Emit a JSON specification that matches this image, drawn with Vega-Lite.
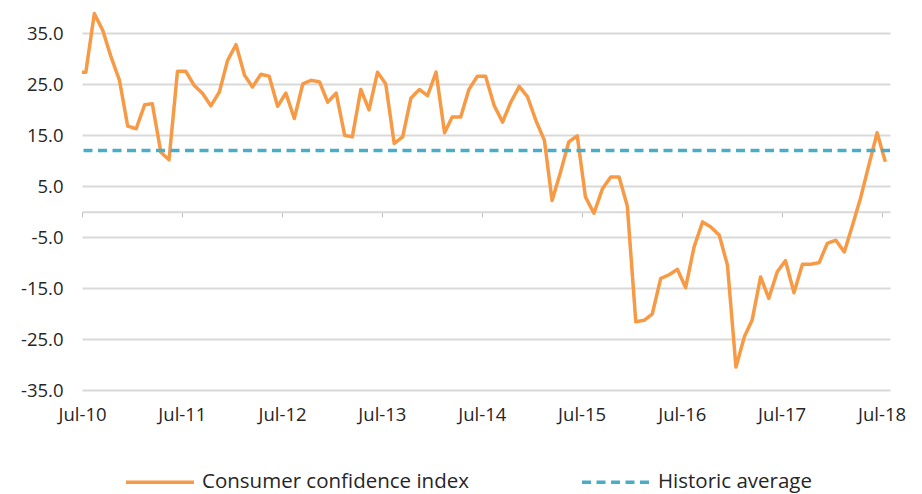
{
  "$schema": "https://vega.github.io/schema/vega-lite/v6.json",
  "width": 808,
  "height": 382,
  "autosize": {"type": "none"},
  "padding": {"left": 82, "top": 8, "right": 32, "bottom": 104},
  "config": {
    "view": {"stroke": null},
    "font": "Open Sans",
    "axis": {"labelFont": "Open Sans", "labelFontSize": 18.5, "labelColor": "#262626"},
    "legend": {"labelFont": "Open Sans", "labelFontSize": 20.5, "labelColor": "#262626", "labelLimit": 0}
  },
  "datasets": {
    "cci": [
      {"date": "2010-06-15", "value": 27.4},
      {"date": "2010-07-15", "value": 27.4},
      {"date": "2010-08-15", "value": 38.9},
      {"date": "2010-09-15", "value": 35.6},
      {"date": "2010-10-15", "value": 30.4},
      {"date": "2010-11-15", "value": 25.8},
      {"date": "2010-12-15", "value": 16.8},
      {"date": "2011-01-15", "value": 16.3},
      {"date": "2011-02-15", "value": 21.0},
      {"date": "2011-03-15", "value": 21.2},
      {"date": "2011-04-15", "value": 11.7},
      {"date": "2011-05-15", "value": 10.2},
      {"date": "2011-06-15", "value": 27.6},
      {"date": "2011-07-15", "value": 27.6},
      {"date": "2011-08-15", "value": 24.8},
      {"date": "2011-09-15", "value": 23.2},
      {"date": "2011-10-15", "value": 20.8},
      {"date": "2011-11-15", "value": 23.5},
      {"date": "2011-12-15", "value": 29.7},
      {"date": "2012-01-15", "value": 32.8},
      {"date": "2012-02-15", "value": 26.8},
      {"date": "2012-03-15", "value": 24.5},
      {"date": "2012-04-15", "value": 27.0},
      {"date": "2012-05-15", "value": 26.6},
      {"date": "2012-06-15", "value": 20.7},
      {"date": "2012-07-15", "value": 23.3},
      {"date": "2012-08-15", "value": 18.3},
      {"date": "2012-09-15", "value": 25.1},
      {"date": "2012-10-15", "value": 25.8},
      {"date": "2012-11-15", "value": 25.5},
      {"date": "2012-12-15", "value": 21.5},
      {"date": "2013-01-15", "value": 23.3},
      {"date": "2013-02-15", "value": 15.0},
      {"date": "2013-03-15", "value": 14.7},
      {"date": "2013-04-15", "value": 24.0},
      {"date": "2013-05-15", "value": 20.0},
      {"date": "2013-06-15", "value": 27.4},
      {"date": "2013-07-15", "value": 25.1},
      {"date": "2013-08-15", "value": 13.4},
      {"date": "2013-09-15", "value": 14.7},
      {"date": "2013-10-15", "value": 22.3},
      {"date": "2013-11-15", "value": 24.0},
      {"date": "2013-12-15", "value": 22.8},
      {"date": "2014-01-15", "value": 27.4},
      {"date": "2014-02-15", "value": 15.5},
      {"date": "2014-03-15", "value": 18.6},
      {"date": "2014-04-15", "value": 18.6},
      {"date": "2014-05-15", "value": 24.0},
      {"date": "2014-06-15", "value": 26.6},
      {"date": "2014-07-15", "value": 26.6},
      {"date": "2014-08-15", "value": 20.9},
      {"date": "2014-09-15", "value": 17.6},
      {"date": "2014-10-15", "value": 21.5},
      {"date": "2014-11-15", "value": 24.6},
      {"date": "2014-12-15", "value": 22.6},
      {"date": "2015-01-15", "value": 17.9},
      {"date": "2015-02-15", "value": 14.0},
      {"date": "2015-03-15", "value": 2.2},
      {"date": "2015-04-15", "value": 7.8},
      {"date": "2015-05-15", "value": 13.7},
      {"date": "2015-06-15", "value": 14.9},
      {"date": "2015-07-15", "value": 2.9},
      {"date": "2015-08-15", "value": -0.3},
      {"date": "2015-09-15", "value": 4.5},
      {"date": "2015-10-15", "value": 6.8},
      {"date": "2015-11-15", "value": 6.8},
      {"date": "2015-12-15", "value": 1.1},
      {"date": "2016-01-15", "value": -21.6},
      {"date": "2016-02-15", "value": -21.3},
      {"date": "2016-03-15", "value": -20.1},
      {"date": "2016-04-15", "value": -13.1},
      {"date": "2016-05-15", "value": -12.4},
      {"date": "2016-06-15", "value": -11.3},
      {"date": "2016-07-15", "value": -14.9},
      {"date": "2016-08-15", "value": -6.9},
      {"date": "2016-09-15", "value": -2.0},
      {"date": "2016-10-15", "value": -3.0},
      {"date": "2016-11-15", "value": -4.6},
      {"date": "2016-12-15", "value": -10.5},
      {"date": "2017-01-15", "value": -30.5},
      {"date": "2017-02-15", "value": -24.5},
      {"date": "2017-03-15", "value": -21.3},
      {"date": "2017-04-15", "value": -12.8},
      {"date": "2017-05-15", "value": -17.0},
      {"date": "2017-06-15", "value": -11.8},
      {"date": "2017-07-15", "value": -9.6},
      {"date": "2017-08-15", "value": -15.9},
      {"date": "2017-09-15", "value": -10.3},
      {"date": "2017-10-15", "value": -10.3},
      {"date": "2017-11-15", "value": -10.0},
      {"date": "2017-12-15", "value": -6.2},
      {"date": "2018-01-15", "value": -5.6},
      {"date": "2018-02-15", "value": -7.9},
      {"date": "2018-03-15", "value": -3.0},
      {"date": "2018-04-15", "value": 2.6},
      {"date": "2018-05-15", "value": 9.0},
      {"date": "2018-06-15", "value": 15.5},
      {"date": "2018-07-15", "value": 9.8}
    ],
    "avg": [
      {"series": "Historic average", "value": 12.0}
    ]
  },
  "layer": [
    {
      "data": {"name": "cci"},
      "transform": [{"calculate": "'Consumer confidence index'", "as": "series"}],
      "mark": {"type": "line", "strokeWidth": 3.5, "clip": true, "strokeJoin": "round"},
      "encoding": {
        "x": {
          "field": "date",
          "type": "temporal",
          "title": null,
          "scale": {"type": "utc", "domain": [{"year": 2010, "month": 7, "date": 1, "utc": true}, {"year": 2018, "month": 8, "date": 1, "utc": true}]},
          "axis": {
            "values": [
              {"year": 2010, "month": 7, "date": 1, "utc": true},
              {"year": 2011, "month": 7, "date": 1, "utc": true},
              {"year": 2012, "month": 7, "date": 1, "utc": true},
              {"year": 2013, "month": 7, "date": 1, "utc": true},
              {"year": 2014, "month": 7, "date": 1, "utc": true},
              {"year": 2015, "month": 7, "date": 1, "utc": true},
              {"year": 2016, "month": 7, "date": 1, "utc": true},
              {"year": 2017, "month": 7, "date": 1, "utc": true},
              {"year": 2018, "month": 7, "date": 1, "utc": true}
            ],
            "labelExpr": "utcFormat(datum.value, '%b-%y')",
            "grid": false,
            "offset": -178.3,
            "domainColor": "#D9D9D9",
            "domainWidth": 2,
            "tickColor": "#BFBFBF",
            "tickWidth": 1,
            "tickSize": 5,
            "labelPadding": 189,
            "labelFlush": false,
            "labelOverlap": false
          }
        },
        "y": {
          "field": "value",
          "type": "quantitative",
          "title": null,
          "scale": {"domain": [-35, 40], "nice": false, "zero": false},
          "axis": {
            "values": [-35, -25, -15, -5, 5, 15, 25, 35],
            "labelExpr": "replace(format(datum.value, '.1f'), '\u2212', '-')",
            "domain": false,
            "ticks": false,
            "gridColor": "#D9D9D9",
            "gridWidth": 2,
            "labelPadding": 19
          }
        },
        "color": {
          "field": "series",
          "type": "nominal",
          "scale": {"domain": ["Consumer confidence index", "Historic average"], "range": ["#F79A46", "#4BACC6"]},
          "legend": {
            "title": null,
            "orient": "none",
            "direction": "horizontal",
            "legendX": 42,
            "legendY": 438,
            "symbolType": "stroke",
            "symbolSize": 4624,
            "symbolStrokeWidth": 3.5,
            "labelOffset": 6,
            "columnPadding": 106,
            "padding": 0
          }
        },
        "strokeDash": {
          "field": "series",
          "type": "nominal",
          "scale": {"domain": ["Consumer confidence index", "Historic average"], "range": [[1, 0], [9, 5.5]]},
          "legend": {
            "title": null,
            "orient": "none",
            "direction": "horizontal",
            "legendX": 42,
            "legendY": 438,
            "symbolType": "stroke",
            "symbolSize": 4624,
            "symbolStrokeWidth": 3.5,
            "labelOffset": 6,
            "columnPadding": 106,
            "padding": 0
          }
        }
      }
    },
    {
      "data": {"name": "avg"},
      "mark": {"type": "rule", "strokeWidth": 3.5},
      "encoding": {
        "y": {"field": "value", "type": "quantitative"},
        "color": {"field": "series", "type": "nominal"},
        "strokeDash": {"field": "series", "type": "nominal"}
      }
    }
  ]
}
